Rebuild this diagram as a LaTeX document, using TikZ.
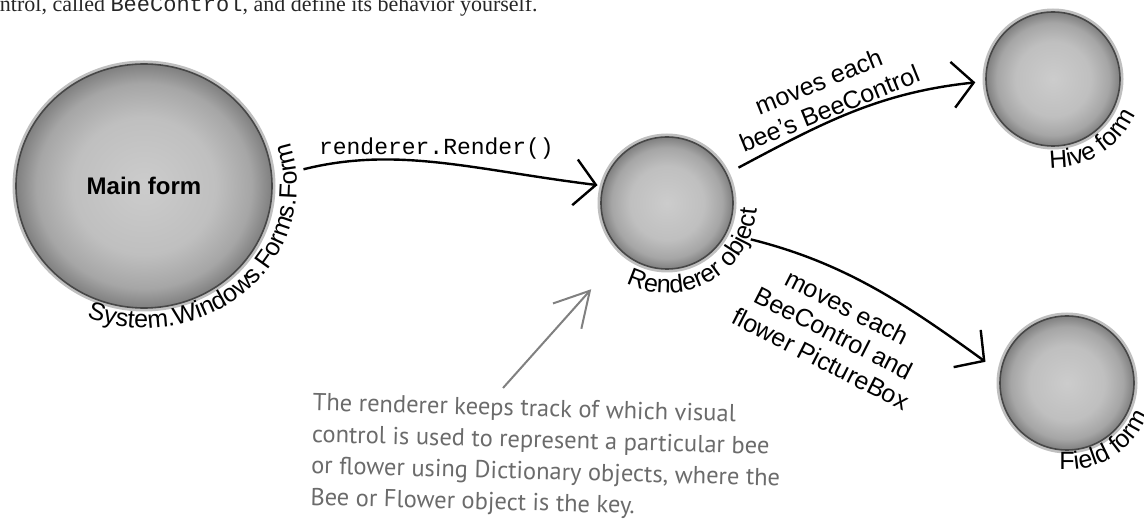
\documentclass[tikz,border=0pt]{standalone}
\usepackage{fontspec}
\setmainfont{Liberation Serif}
\setsansfont{Liberation Sans}
\setmonofont{Liberation Mono}
\newfontfamily\handfont{PT Sans}
\usepackage{tikz}
\usetikzlibrary{arrows.meta,decorations.text,calc,shapes.geometric}

\pgfdeclareradialshading{formshade}{\pgfpoint{0bp}{0bp}}{color(0bp)=(black!20); color(14bp)=(black!25); color(21bp)=(black!35); color(25bp)=(black!50); color(50bp)=(black!50)}
\newcommand\lblfont{\sffamily\fontsize{25}{25}\selectfont}

\begin{document}
\begin{tikzpicture}[x=1pt, y=1pt,
    formball/.style={circle, draw=black!72, line width=1.6pt, shading=formshade, shade, inner sep=0pt,
      preaction={draw=black!25, line width=7pt}},
    edge/.style={line width=2.4pt, -{Straight Barb[length=21pt,width=46pt]}},
    edgelabel/.style={font=\sffamily\fontsize{25}{29}\selectfont, align=center, inner sep=0pt},
    codelabel/.style={font=\ttfamily\fontsize{23}{23}\selectfont, inner sep=2pt},
    arclabel/.style={decorate, decoration={text along path, text={|\lblfont|#1}}},
    notearrow/.style={draw=black!50, line width=2pt, -{Straight Barb[length=34pt,width=38pt]}}
]
\useasboundingbox (0,0) rectangle (1144,-526);
\clip (0,0) rectangle (1144,-526);

% text line cut off at the top
\node[anchor=base west, inner sep=0pt, text=black!85, font=\fontsize{22}{22}\selectfont] (intro) at (-21,-12)
  {control, called \texttt{BeeControl}, and define its behavior yourself.};

% the forms and the renderer
\node[formball, ellipse, minimum width=256pt, minimum height=244pt,
      font=\sffamily\bfseries\fontsize{24}{24}\selectfont] (main) at (144,-186) {Main form};
\node[formball, minimum size=132pt] (rend) at (667,-203) {};
\node[formball, minimum size=134pt] (hive) at (1053,-79) {};
\node[formball, minimum size=134pt] (field) at (1067,-383) {};

% curved names round the circles
\path[arclabel={System.Windows.Forms.Form}] ($(main.center)+({153*cos(-112)},{142*sin(-112)})$)
  arc[start angle=-112, end angle=70, x radius=153, y radius=142];
\path[arclabel={Renderer object}] ($(rend.center)+(-117:90)$) arc[start angle=-117, end angle=80, radius=90];
\path[arclabel={Hive form}] ($(hive.center)+(-92:89)$) arc[start angle=-92, end angle=60, radius=89];
\path[arclabel={Field form}] ($(field.center)+(-95:87)$) arc[start angle=-95, end angle=60, radius=87];

% connectors
\draw[edge, shorten <=32pt, shorten >=5pt] (main.4) to[out=14, in=173]
  node[codelabel, above=1pt] (call) {renderer.Render()} (rend.165);
\draw[edge, shorten <=13pt, shorten >=10pt] (rend.26) to[out=28, in=186] (hive.182);
\draw[edge, shorten <=25pt, shorten >=18pt] (rend.-27) to[out=-14, in=144] (field.171);

\node[edgelabel, rotate=22] (movehive) at (824,-95) {moves each\\bee’s BeeControl};
\node[edgelabel, rotate=-27] (movefield) at (834,-333) {moves each\\BeeControl and\\flower PictureBox};

% handwritten note
\node[anchor=north west, rotate=-1.5, align=left, inner sep=0pt, text=black!58,
      font=\handfont\fontsize{24.5}{31.5}\selectfont] (note) at (313,-393)
  {The renderer keeps track of which visual\\
   control is used to represent a particular bee\\
   or flower using Dictionary objects, where the\\
   Bee or Flower object is the key.};
\draw[notearrow, shorten >=48pt] ($(note.north west)+(190,5)$) -- (rend.229);
\end{tikzpicture}
\end{document}
